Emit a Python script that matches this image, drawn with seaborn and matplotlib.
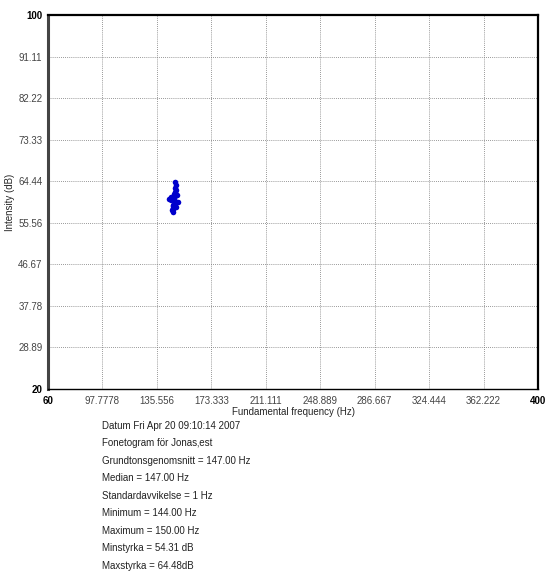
import matplotlib
matplotlib.use("Agg")
import matplotlib.pyplot as plt
import seaborn as sns
import numpy as np
import pandas as pd

# ---- data ----
freq_hz = [148, 148.5, 148, 149, 148, 147.5, 149.5, 148, 147, 146, 145, 144, 145.5,
           147, 148, 150, 148, 147, 148.5, 147, 146.5, 147, 146, 146.5, 147]
intensity_db = [64.3, 63.6, 63.0, 62.6, 62.2, 61.8, 61.5, 61.2, 61.0, 60.9, 61.1,
                60.7, 60.4, 60.6, 60.2, 59.9, 59.6, 59.3, 59.0, 58.8, 59.2, 58.6,
                58.2, 57.9, 58.4]
x_ticks = [60, 97.7778, 135.556, 173.333, 211.111, 248.889, 286.667, 324.444, 362.222, 400]
x_tick_labels = ["60", "97.7778", "135.556", "173.333", "211.111", "248.889",
                 "286.667", "324.444", "362.222", "400"]
y_ticks = [20, 28.89, 37.78, 46.67, 55.56, 64.44, 73.33, 82.22, 91.11, 100]
y_tick_labels = ["20", "28.89", "37.78", "46.67", "55.56", "64.44", "73.33",
                 "82.22", "91.11", "100"]
info_lines = [
    "Datum Fri Apr 20 09:10:14 2007",
    "Fonetogram för Jonas\u201aest",
    "Grundtonsgenomsnitt = 147.00 Hz",
    "Median = 147.00 Hz",
    "Standardavvikelse = 1 Hz",
    "Minimum = 144.00 Hz",
    "Maximum = 150.00 Hz",
    "Minstyrka = 54.31 dB",
    "Maxstyrka = 64.48dB",
]

sns.set_style("white")
plt.rcParams['font.family'] = ['Liberation Sans', 'DejaVu Sans']

df = pd.DataFrame({"f": freq_hz, "i": intensity_db})

fig = plt.figure(figsize=(5.47, 5.74), dpi=100)
ax = fig.add_axes([48/547, 1-389/574, 490/547, 374/574])

sns.lineplot(data=df, x="f", y="i", sort=False, estimator=None, color="#0000cc",
             lw=2.0, ax=ax, marker="o", markersize=4, markeredgewidth=0)

ax.set_xlim(60, 400)
ax.set_ylim(20, 100)
ax.set_xticks(x_ticks)
ax.set_xticklabels(x_tick_labels)
ax.set_yticks(y_ticks)
ax.set_yticklabels(y_tick_labels)
ax.grid(True, linestyle=(0, (1, 1.5)), color="#777777", linewidth=0.6)
ax.tick_params(axis="x", length=0, pad=5, labelsize=7, labelcolor="#444444")
ax.tick_params(axis="y", length=3, width=0.8, color="#333333", pad=1,
               labelsize=7, labelcolor="#444444")
for lbl in ax.get_xticklabels():
    if lbl.get_text() in ("60", "400"):
        lbl.set_fontweight("bold")
        lbl.set_color("black")
for lbl in ax.get_yticklabels():
    if lbl.get_text() in ("20", "100"):
        lbl.set_fontweight("bold")
        lbl.set_color("black")

ax.spines["left"].set_linewidth(2.2)
ax.spines["left"].set_color("#444444")
ax.spines["top"].set_linewidth(1.6)
ax.spines["top"].set_color("black")
ax.spines["right"].set_linewidth(1.6)
ax.spines["right"].set_color("black")
ax.spines["bottom"].set_linewidth(1.0)
ax.spines["bottom"].set_color("black")
for s in ax.spines.values():
    s.set_visible(True)

ax.set_xlabel("Fundamental frequency (Hz)", fontsize=7, labelpad=1)
ax.set_ylabel("Intensity (dB)", fontsize=7, labelpad=2)

y0 = 1 - 426/574
for k, line in enumerate(info_lines):
    fig.text(102/547, y0 - k*17.45/574, line, fontsize=7, va="center", ha="left",
             color="#222222")

fig.savefig("out.png", dpi=100)
